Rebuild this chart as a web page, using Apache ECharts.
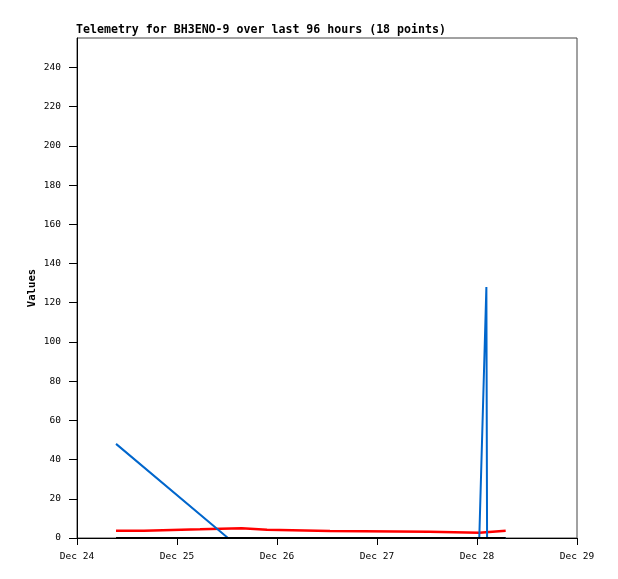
<!DOCTYPE html>
<html>
<head>
<meta charset="utf-8">
<script src="https://cdn.jsdelivr.net/npm/echarts@6/dist/echarts.min.js"></script>
<style>
  html, body { margin: 0; padding: 0; background: #fff; }
  #chart { width: 618px; height: 579px; }
</style>
</head>
<body>
<div id="chart"></div>
<script>
// sample times (local time)
const times = [
  '2024-12-24T09:22', '2024-12-24T16:05', '2024-12-25T05:31', '2024-12-25T12:14',
  '2024-12-25T15:32', '2024-12-25T21:36', '2024-12-26T12:43', '2024-12-27T12:29',
  '2024-12-28T00:33', '2024-12-28T02:15', '2024-12-28T02:25', '2024-12-28T06:53'
]
// series values (null = no sample for that channel)
const redValues = [3.7, 4.4, 5.0, null, 4.2, 3.6, 3.2, 2.7, 3.7, null, null, 3.7]
const blueValues = [48, null, null, 0, null, null, null, null, 0, 128, 0, 0]
const blackValues = [0, null, null, null, null, null, null, null, null, null, null, 0]

const yTicks = [0, 20, 40, 60, 80, 100, 120, 140, 160, 180, 200, 220, 240]
const xStart = '2024-12-24T00:00'
const xEnd = '2024-12-29T00:00'
const DAY = 86400000

const toTs = s => new Date(s).getTime()
// keep only the samples a channel actually has
const pairs = vals => times.map((t, i) => [toTs(t), vals[i]]).filter(p => p[1] !== null)

const chart = echarts.init(document.getElementById('chart'))
const tickFont = { fontFamily: 'DejaVu Sans Mono', fontSize: 9.5, color: '#000' }

chart.setOption({
  animation: false,
  title: {
    text: 'Telemetry for BH3ENO-9 over last 96 hours (18 points)',
    left: 76,
    top: 24,
    padding: 0,
    textStyle: { fontFamily: 'DejaVu Sans Mono', fontWeight: 'bold', fontSize: 11.6, color: '#000' }
  },
  grid: {
    left: 77, right: 41, top: 38, bottom: 41,
    show: true, borderColor: '#444', borderWidth: 1
  },
  xAxis: {
    type: 'value',
    min: toTs(xStart),
    max: toTs(xEnd),
    interval: DAY,
    axisLine: { lineStyle: { color: '#000', width: 1 } },
    axisTick: { show: true, length: 7, lineStyle: { color: '#000' } },
    axisLabel: {
      ...tickFont,
      margin: 14,
      formatter: v => 'Dec ' + new Date(v).getDate()
    },
    splitLine: { show: false }
  },
  yAxis: {
    type: 'value',
    min: 0,
    max: 255,
    name: 'Values',
    nameLocation: 'middle',
    nameGap: 39,
    nameMoveOverlap: false,
    nameTextStyle: { fontFamily: 'DejaVu Sans Mono', fontWeight: 'bold', fontSize: 10.6, color: '#000' },
    axisLine: { show: true, lineStyle: { color: '#000', width: 1 } },
    axisTick: { show: true, length: 8, lineStyle: { color: '#000' }, customValues: yTicks },
    axisLabel: { ...tickFont, margin: 16, customValues: yTicks },
    splitLine: { show: false }
  },
  series: [
    {
      type: 'line', step: 'end', data: pairs(redValues),
      showSymbol: false, lineStyle: { color: '#ff0000', width: 2.5 }
    },
    {
      type: 'line', data: pairs(blueValues),
      showSymbol: false, lineStyle: { color: '#0066cc', width: 2 }
    },
    {
      type: 'line', data: pairs(blackValues),
      showSymbol: false, lineStyle: { color: '#000', width: 2 }
    }
  ]
})
</script>
</body>
</html>
